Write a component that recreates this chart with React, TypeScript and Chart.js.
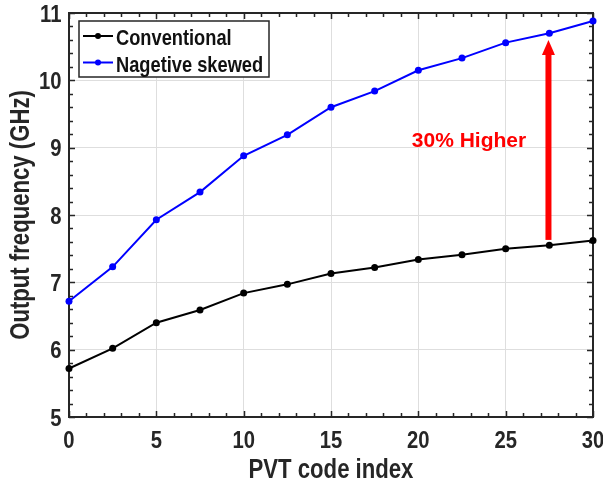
import React, { useEffect, useRef } from 'react';
import { Chart, registerables } from 'chart.js';

Chart.register(...registerables);

// ---- data ----
const pvtCodeIndex = [0, 2.5, 5, 7.5, 10, 12.5, 15, 17.5, 20, 22.5, 25, 27.5, 30];
const conventional = [5.72, 6.02, 6.4, 6.59, 6.84, 6.97, 7.13, 7.22, 7.34, 7.41, 7.5, 7.55, 7.62];
const negativeSkewed = [6.72, 7.23, 7.93, 8.34, 8.88, 9.19, 9.6, 9.84, 10.15, 10.33, 10.56, 10.7, 10.88];
const seriesLabels = ['Conventional', 'Nagetive skewed'];
const seriesColors = ['#000000', '#0000ff'];
const xTickValues = [0, 5, 10, 15, 20, 25, 30];
const yTickValues = [5, 6, 7, 8, 9, 10, 11];
const xTitle = 'PVT code index';
const yTitle = 'Output frequency (GHz)';
const annotationText = '30% Higher';
const annotationPos = [22.9, 9.09];
const arrowX = 27.45;
const arrowFromY = 7.63;
const arrowToY = 10.6;

const FONT = "'Liberation Sans', Arial, sans-serif";
const AXIS_COLOR = '#262626';

function narrowText(
  ctx: CanvasRenderingContext2D,
  text: string,
  x: number,
  y: number,
  size: number,
  align: CanvasTextAlign,
  condense: number,
  rotate = 0,
) {
  ctx.save();
  ctx.translate(x, y);
  if (rotate) ctx.rotate(rotate);
  ctx.scale(condense, 1);
  ctx.font = `bold ${size}px ${FONT}`;
  ctx.textAlign = align;
  ctx.textBaseline = 'alphabetic';
  ctx.fillText(text, 0, 0);
  ctx.restore();
}

const decorPlugin = {
  id: 'decor',
  beforeDatasetsDraw(chart: any) {
    const { ctx, chartArea: a, scales } = chart;
    const xs = scales.x;
    const ys = scales.y;
    ctx.save();
    ctx.strokeStyle = AXIS_COLOR;
    ctx.lineWidth = 1.5;
    // minor + major ticks (inward, all four sides)
    ctx.beginPath();
    for (let v = xs.min; v <= xs.max + 1e-9; v += 1) {
      const px = Math.round(xs.getPixelForValue(v)) + 0.5;
      const major = xTickValues.includes(v);
      const len = major ? 6 : 4;
      ctx.moveTo(px, a.bottom);
      ctx.lineTo(px, a.bottom - len);
      ctx.moveTo(px, a.top);
      ctx.lineTo(px, a.top + len);
    }
    for (let i = 0; i <= (ys.max - ys.min) * 5; i++) {
      const v = ys.min + i * 0.2;
      const py = Math.round(ys.getPixelForValue(v)) + 0.5;
      const major = i % 5 === 0;
      const len = major ? 6 : 4;
      ctx.moveTo(a.left, py);
      ctx.lineTo(a.left + len, py);
      ctx.moveTo(a.right, py);
      ctx.lineTo(a.right - len, py);
    }
    ctx.stroke();
    // box
    ctx.lineWidth = 2;
    ctx.strokeRect(a.left, a.top, a.right - a.left, a.bottom - a.top);
    ctx.restore();
  },
  afterDraw(chart: any) {
    const { ctx, chartArea: a, scales } = chart;
    const xs = scales.x;
    const ys = scales.y;
    ctx.save();
    ctx.fillStyle = AXIS_COLOR;
    // tick labels
    xs.ticks.forEach((t: any) => {
      narrowText(ctx, String(t.label), xs.getPixelForValue(t.value), a.bottom + 31, 23, 'center', 0.88);
    });
    ys.ticks.forEach((t: any) => {
      narrowText(ctx, String(t.label), a.left - 7.5, ys.getPixelForValue(t.value) + 8.5, 23, 'right', 0.88);
    });
    // axis titles
    narrowText(ctx, xTitle, (a.left + a.right) / 2, a.bottom + 61, 27, 'center', 0.82);
    narrowText(ctx, yTitle, 29, (a.top + a.bottom) / 2, 27, 'center', 0.82, -Math.PI / 2);

    // legend
    const lx = a.left + 10;
    const ly = a.top + 8;
    const lw = 190;
    const lh = 56;
    ctx.fillStyle = '#ffffff';
    ctx.fillRect(lx, ly, lw, lh);
    ctx.strokeStyle = AXIS_COLOR;
    ctx.lineWidth = 1.5;
    ctx.strokeRect(lx, ly, lw, lh);
    chart.data.datasets.forEach((ds: any, i: number) => {
      const cy = ly + 15 + i * 26.5;
      ctx.strokeStyle = ds.borderColor;
      ctx.lineWidth = 2;
      ctx.beginPath();
      ctx.moveTo(lx + 4, cy);
      ctx.lineTo(lx + 34, cy);
      ctx.stroke();
      ctx.fillStyle = ds.borderColor;
      ctx.beginPath();
      ctx.arc(lx + 19, cy, 3, 0, Math.PI * 2);
      ctx.fill();
      ctx.fillStyle = '#111111';
      narrowText(ctx, ds.label, lx + 37, cy + 9, 22, 'left', 0.83);
    });
    // arrow
    const ax = xs.getPixelForValue(arrowX);
    const y0 = ys.getPixelForValue(arrowFromY);
    const y1 = ys.getPixelForValue(arrowToY);
    const headLen = 15;
    const headW = 13;
    const shaftW = 6;
    ctx.fillStyle = '#ff0000';
    ctx.fillRect(ax - shaftW / 2, y1 + headLen - 1, shaftW, y0 - (y1 + headLen - 1));
    ctx.beginPath();
    ctx.moveTo(ax, y1);
    ctx.lineTo(ax - headW / 2, y1 + headLen);
    ctx.lineTo(ax + headW / 2, y1 + headLen);
    ctx.closePath();
    ctx.fill();
    // annotation text
    ctx.font = `bold 21px ${FONT}`;
    ctx.textAlign = 'center';
    ctx.textBaseline = 'middle';
    ctx.fillText(annotationText, xs.getPixelForValue(annotationPos[0]), ys.getPixelForValue(annotationPos[1]));
    ctx.restore();
  },
};

export default function App() {
  const ref = useRef<HTMLCanvasElement | null>(null);
  useEffect(() => {
    if (!ref.current) return;
    const makeDs = (label: string, values: number[], color: string) => ({
      label,
      data: pvtCodeIndex.map((x, i) => ({ x, y: values[i] })),
      borderColor: color,
      backgroundColor: color,
      borderWidth: 2,
      pointRadius: 3.5,
      pointHoverRadius: 3.5,
      pointBorderWidth: 0,
      tension: 0,
      clip: false,
    });
    const chart = new Chart(ref.current, {
      type: 'line',
      data: {
        datasets: [
          makeDs(seriesLabels[0], conventional, seriesColors[0]),
          makeDs(seriesLabels[1], negativeSkewed, seriesColors[1]),
        ],
      },
      options: {
        animation: false,
        responsive: false,
        devicePixelRatio: 1,
        layout: { padding: { top: 13, right: 10, left: 0, bottom: 0 } },
        plugins: { legend: { display: false }, tooltip: { enabled: false } },
        scales: {
          x: {
            type: 'linear',
            min: 0,
            max: 30,
            afterBuildTicks: (s: any) => {
              s.ticks = xTickValues.map((v) => ({ value: v }));
            },
            afterFit: (s: any) => {
              s.height = 73;
              s.paddingLeft = 0;
              s.paddingRight = 0;
            },
            ticks: { display: false, autoSkip: false },
            grid: { color: '#dedede', lineWidth: 1, drawTicks: false },
            border: { display: false },
            title: { display: false, text: xTitle },
          },
          y: {
            type: 'linear',
            min: 5,
            max: 11,
            afterBuildTicks: (s: any) => {
              s.ticks = yTickValues.map((v) => ({ value: v }));
            },
            afterFit: (s: any) => {
              s.width = 69;
              s.paddingTop = 0;
              s.paddingBottom = 0;
            },
            ticks: { display: false, autoSkip: false },
            grid: { color: '#dedede', lineWidth: 1, drawTicks: false },
            border: { display: false },
            title: { display: false, text: yTitle },
          },
        },
      },
      plugins: [decorPlugin],
    });
    return () => chart.destroy();
  }, []);
  return (
    <div style={{ position: 'absolute', left: 0, top: 0, width: 603, height: 490, background: '#fff' }}>
      <canvas ref={ref} width={603} height={490} />
    </div>
  );
}
